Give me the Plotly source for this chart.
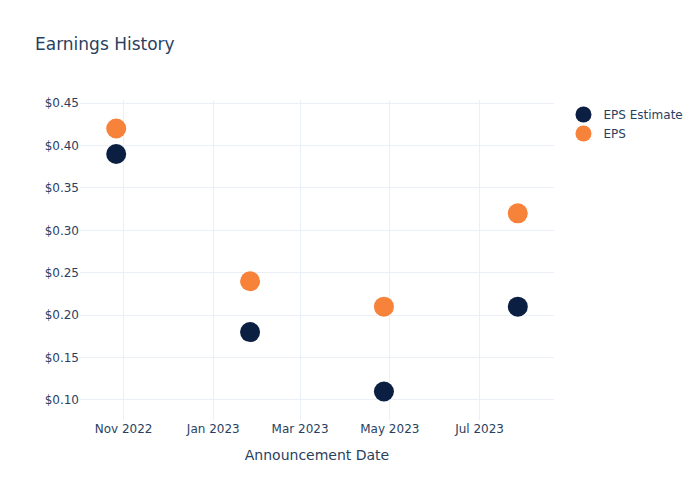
import plotly.graph_objects as go

dates = ["2022-10-27", "2023-01-26", "2023-04-27", "2023-07-27"]
eps_estimate = [0.39, 0.18, 0.11, 0.21]
eps_actual = [0.42, 0.24, 0.21, 0.32]

fig = go.Figure()
fig.add_trace(go.Scatter(x=dates, y=eps_estimate, mode="markers", name="EPS Estimate",
                         marker=dict(color="#0b1f42", size=20)))
fig.add_trace(go.Scatter(x=dates, y=eps_actual, mode="markers", name="EPS",
                         marker=dict(color="#f7823a", size=20)))
fig.update_layout(
    template="plotly_white",
    width=700, height=500,
    font=dict(family="DejaVu Sans"),
    title=dict(text="Earnings History"),
    xaxis=dict(title=dict(text="Announcement Date")),
    yaxis=dict(tickformat="$.2f"),
)
fig.write_html("out.html")
